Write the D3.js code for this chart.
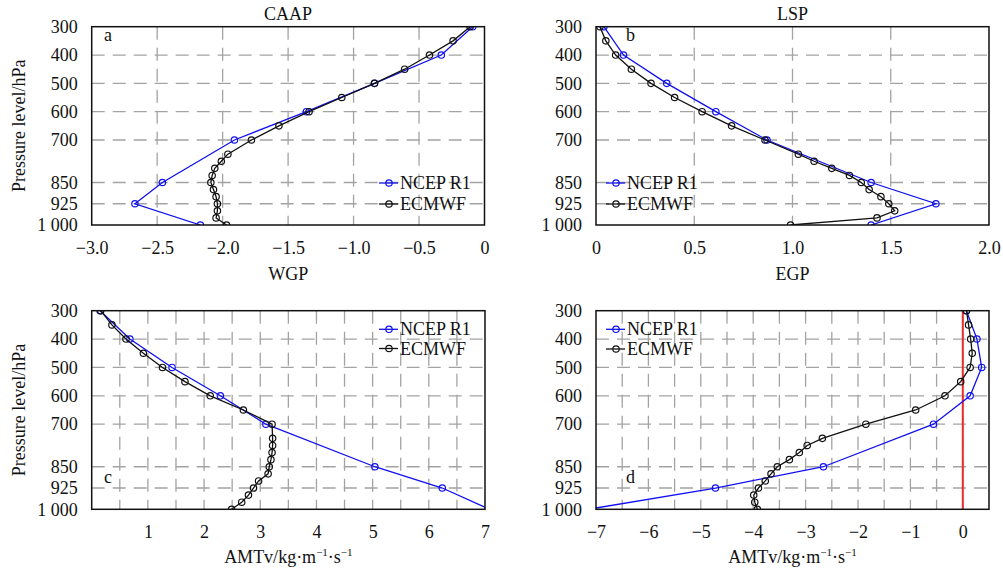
<!DOCTYPE html>
<html>
<head>
<meta charset="utf-8">
<script src="https://cdn.jsdelivr.net/npm/d3@7"></script>
</head>
<body style="margin:0; background:#fff">
<svg id="chart" width="1003" height="574"></svg>
<script>
// pressure levels (hPa)
var ncepLevels = [300, 400, 500, 600, 700, 850, 925, 1000];
var ecmwfLevels = [300, 350, 400, 450, 500, 550, 600, 650, 700, 750, 775, 800, 825, 850, 875, 900, 925, 950, 975, 1000];
var yTicks = [300, 400, 500, 600, 700, 850, 925, 1000];

// AMTv values
var caapNcep = [-0.09, -0.33, -0.84, -1.36, -1.91, -2.46, -2.67, -2.17];
var caapEcmwf = [-0.11, -0.24, -0.42, -0.61, -0.84, -1.09, -1.34, -1.57, -1.78, -1.96, -2.01, -2.06, -2.08, -2.09, -2.07, -2.05, -2.04, -2.04, -2.05, -1.97];

var lspNcep = [0.04, 0.14, 0.36, 0.61, 0.87, 1.40, 1.73, 1.40];
var lspEcmwf = [0.02, 0.05, 0.10, 0.18, 0.28, 0.40, 0.54, 0.69, 0.86, 1.03, 1.11, 1.20, 1.29, 1.35, 1.39, 1.45, 1.49, 1.52, 1.43, 0.99];

var wgpNcep = [0.15, 0.68, 1.43, 2.29, 3.10, 5.04, 6.24, 7.08];
var wgpEcmwf = [0.16, 0.36, 0.61, 0.92, 1.26, 1.66, 2.11, 2.70, 3.21, 3.22, 3.22, 3.21, 3.19, 3.16, 3.14, 2.97, 2.88, 2.79, 2.67, 2.49];

var egpNcep = [0.07, 0.27, 0.36, 0.14, -0.56, -2.66, -4.72, -7.15];
var egpEcmwf = [0.07, 0.11, 0.15, 0.18, 0.14, -0.04, -0.34, -0.90, -1.85, -2.68, -2.97, -3.12, -3.31, -3.54, -3.66, -3.77, -3.90, -3.99, -3.97, -3.92];

// x tick labels
var caapTicks = [-3, -2.5, -2, -1.5, -1, -0.5, 0];
var lspTicks = [0, 0.5, 1, 1.5, 2];
var wgpTicks = [1, 2, 3, 4, 5, 6, 7];
var egpTicks = [-7, -6, -5, -4, -3, -2, -1, 0];

var seriesNames = ["NCEP R1", "ECMWF"];
var colors = ["#1010f0", "#111"];

var FONT = "'Liberation Serif'";

var svg = d3.select("#chart");
var defs = svg.append("defs");

function fmt1(d) {
  if (d === 0) return "0";
  return d3.format(".1f")(d).replace("-", "\u2212");
}
function fmtInt(d) {
  return String(d).replace("-", "\u2212");
}

function addText(sel) {
  return sel.append("text")
    .style("font-family", FONT)
    .attr("font-size", 18)
    .attr("fill", "#111");
}

var panels = [
  { letter: "a", title: "CAAP", ncep: caapNcep, ecmwf: caapEcmwf, xDomain: [-3, 0], ticks: caapTicks, format: fmt1,
    grid: [-2.5, -2, -1.5, -1, -0.5], box: { x0: 91.7, x1: 484.5, y0: 26.7, y1: 225 }, titleY: 20,
    legend: { x: 379, rows: [183, 204] }, letterPos: [104, 41] },
  { letter: "b", title: "LSP", ncep: lspNcep, ecmwf: lspEcmwf, xDomain: [0, 2], ticks: lspTicks, format: fmt1,
    grid: [0.5, 1, 1.5], box: { x0: 596, x1: 989, y0: 26.7, y1: 225 }, titleY: 20,
    legend: { x: 606, rows: [183, 204] }, letterPos: [626, 41] },
  { letter: "c", title: "WGP", ncep: wgpNcep, ecmwf: wgpEcmwf, xDomain: [0, 7], ticks: wgpTicks, format: fmtInt,
    grid: d3.range(0.5, 7, 0.5), box: { x0: 91.7, x1: 485, y0: 310.7, y1: 509.3 }, titleY: 280,
    legend: { x: 379, rows: [329.3, 348.5] }, letterPos: [104, 483], xLabel: true },
  { letter: "d", title: "EGP", ncep: egpNcep, ecmwf: egpEcmwf, xDomain: [-7, 0.5], ticks: egpTicks, format: fmtInt,
    grid: d3.range(-6.5, 0.5, 0.5), box: { x0: 596, x1: 989, y0: 310.7, y1: 509.3 }, titleY: 280,
    legend: { x: 606, rows: [329.3, 349] }, letterPos: [626, 483], xLabel: true, zeroLine: true }
];

panels.forEach(function(p) {
  var b = p.box;
  var x = d3.scaleLinear().domain(p.xDomain).range([b.x0, b.x1]);
  var y = d3.scaleLinear().domain([300, 1000]).range([b.y0, b.y1]);
  var g = svg.append("g").attr("class", "panel-" + p.letter);

  defs.append("clipPath").attr("id", "clip-" + p.letter)
    .append("rect")
      .attr("x", b.x0).attr("y", b.y0)
      .attr("width", b.x1 - b.x0).attr("height", b.y1 - b.y0);

  // dashed grid
  g.selectAll(".hgrid")
    .data(yTicks.slice(1, -1))
    .enter().append("line")
      .attr("x1", b.x0).attr("x2", b.x1)
      .attr("y1", function(d) { return y(d); })
      .attr("y2", function(d) { return y(d); })
      .attr("stroke", "#a3a3a3").attr("stroke-width", 1.3)
      .attr("stroke-dasharray", "13,8");

  g.selectAll(".vgrid")
    .data(p.grid)
    .enter().append("line")
      .attr("x1", function(d) { return x(d); })
      .attr("x2", function(d) { return x(d); })
      .attr("y1", b.y0).attr("y2", b.y1)
      .attr("stroke", "#a3a3a3").attr("stroke-width", 1.3)
      .attr("stroke-dasharray", "13,8");

  var plot = g.append("g").attr("clip-path", "url(#clip-" + p.letter + ")");

  if (p.zeroLine) {
    plot.append("line")
      .attr("x1", x(0)).attr("x2", x(0))
      .attr("y1", b.y0).attr("y2", b.y1)
      .attr("stroke", "#ee2a2a").attr("stroke-width", 2);
  }

  var line = d3.line()
    .x(function(d) { return x(d[1]); })
    .y(function(d) { return y(d[0]); });

  var series = [d3.zip(ncepLevels, p.ncep), d3.zip(ecmwfLevels, p.ecmwf)];
  series.forEach(function(data, k) {
    plot.append("path")
      .datum(data)
      .attr("d", line)
      .attr("fill", "none")
      .attr("stroke", colors[k])
      .attr("stroke-width", 1.3);
    plot.selectAll(".pt" + k)
      .data(data)
      .enter().append("circle")
        .attr("cx", function(d) { return x(d[1]); })
        .attr("cy", function(d) { return y(d[0]); })
        .attr("r", 3.2)
        .attr("fill", "none")
        .attr("stroke", colors[k])
        .attr("stroke-width", 1.2);
  });

  // frame
  g.append("rect")
    .attr("x", b.x0).attr("y", b.y0)
    .attr("width", b.x1 - b.x0).attr("height", b.y1 - b.y0)
    .attr("fill", "none").attr("stroke", "#111").attr("stroke-width", 1.5);

  // axes
  var yAxis = g.append("g")
    .attr("transform", "translate(" + b.x0 + ",0)")
    .call(d3.axisLeft(y).tickValues(yTicks).tickSize(0).tickPadding(14)
      .tickFormat(function(d) { return d === 1000 ? "1 000" : d; }));
  var xAxis = g.append("g")
    .attr("transform", "translate(0," + b.y1 + ")")
    .call(d3.axisBottom(x).tickValues(p.ticks).tickSize(0).tickPadding(16).tickFormat(p.format));
  [yAxis, xAxis].forEach(function(a) {
    a.select(".domain").remove();
    a.selectAll("text")
      .style("font-family", FONT)
      .attr("font-size", 18).attr("fill", "#111");
  });

  // title
  addText(g)
    .attr("x", (b.x0 + b.x1) / 2).attr("y", p.titleY)
    .attr("text-anchor", "middle")
    .text(p.title);

  // panel letter
  addText(g)
    .attr("x", p.letterPos[0]).attr("y", p.letterPos[1])
    .text(p.letter);

  // legend
  seriesNames.forEach(function(name, k) {
    var ly = p.legend.rows[k];
    g.append("line")
      .attr("x1", p.legend.x).attr("x2", p.legend.x + 19)
      .attr("y1", ly).attr("y2", ly)
      .attr("stroke", colors[k]).attr("stroke-width", 1.3);
    g.append("circle")
      .attr("cx", p.legend.x + 10).attr("cy", ly).attr("r", 3.2)
      .attr("fill", "none").attr("stroke", colors[k]).attr("stroke-width", 1.2);
    addText(g)
      .attr("x", p.legend.x + 21).attr("y", ly + 6)
      .text(name);
  });

  // y label on the left column
  if (b.x0 < 300) {
    addText(g)
      .attr("transform", "translate(25," + ((b.y0 + b.y1) / 2) + ") rotate(-90)")
      .attr("text-anchor", "middle")
      .text("Pressure level/hPa");
  }

  // x label on bottom row
  if (p.xLabel) {
    var t = addText(g)
      .attr("x", (b.x0 + b.x1) / 2).attr("y", 563)
      .attr("text-anchor", "middle");
    t.append("tspan").text("AMTv/kg\u00b7m");
    t.append("tspan").attr("dy", -7).attr("font-size", 11).text("\u22121");
    t.append("tspan").attr("dy", 7).text("\u00b7s");
    t.append("tspan").attr("dy", -7).attr("font-size", 11).text("\u22121");
  }
});
</script>
</body>
</html>
